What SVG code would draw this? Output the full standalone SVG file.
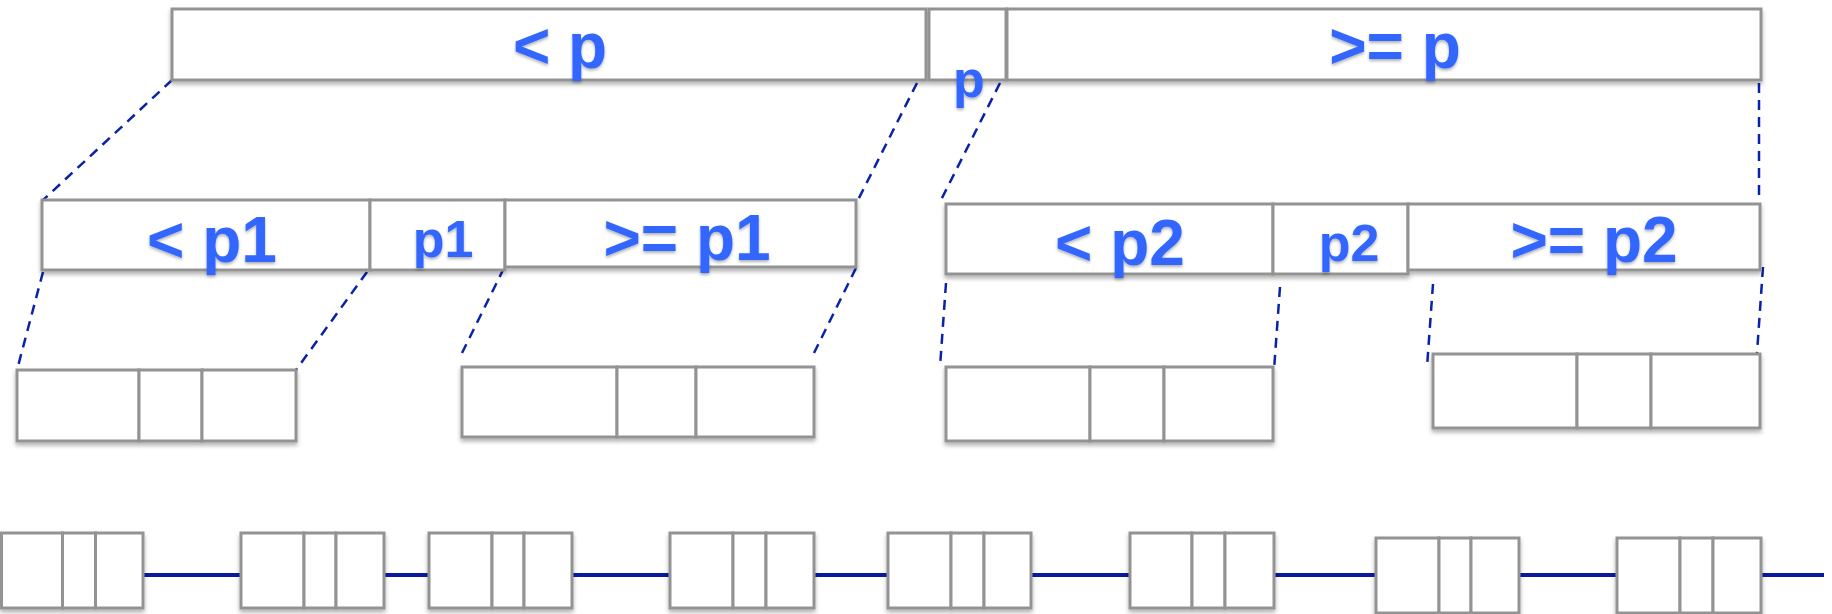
<svg xmlns="http://www.w3.org/2000/svg" width="1832" height="614" viewBox="0 0 1832 614">
<defs>
<filter id="sh" x="-5%" y="-10%" width="110%" height="130%">
<feDropShadow dx="0" dy="3" stdDeviation="2" flood-color="#000" flood-opacity="0.3"/>
</filter>
<filter id="tsh" x="-10%" y="-10%" width="120%" height="130%">
<feDropShadow dx="0" dy="2" stdDeviation="1.5" flood-color="#000" flood-opacity="0.3"/>
</filter>
</defs>
<style>
.c{fill:#fff;stroke:#939393;stroke-width:3}
.lbl{font-family:"Liberation Sans",Arial,sans-serif;font-weight:bold;fill:#3366ff;text-anchor:middle}
.big{font-size:64px}
.sm{font-size:52px}
.d{stroke:#0a22a8;stroke-width:2.5;stroke-dasharray:10 7;fill:none}
.s{stroke:#0a1a9e;stroke-width:4;fill:none}
</style>
<rect width="1832" height="614" fill="#fff"/>

<g id="connectors">
<line class="d" x1="172" y1="80" x2="42" y2="201"/>
<line class="d" x1="917" y1="83" x2="857" y2="202"/>
<line class="d" x1="1000" y1="83" x2="940" y2="202"/>
<line class="d" x1="1759" y1="83" x2="1759" y2="200"/>
<line class="d" x1="43" y1="272" x2="17" y2="370"/>
<line class="d" x1="367" y1="272" x2="296" y2="370"/>
<line class="d" x1="504" y1="268" x2="462" y2="353"/>
<line class="d" x1="856" y1="268" x2="814" y2="353"/>
<line class="d" x1="946" y1="283" x2="940" y2="367"/>
<line class="d" x1="1280" y1="287" x2="1274" y2="370"/>
<line class="d" x1="1433" y1="284" x2="1427" y2="367"/>
<line class="d" x1="1763" y1="267" x2="1757" y2="353"/>
<line class="s" x1="143" y1="575" x2="241" y2="575"/>
<line class="s" x1="384" y1="575" x2="429" y2="575"/>
<line class="s" x1="572" y1="575" x2="670" y2="575"/>
<line class="s" x1="814" y1="575" x2="888" y2="575"/>
<line class="s" x1="1031" y1="575" x2="1130" y2="575"/>
<line class="s" x1="1274" y1="575" x2="1376" y2="575"/>
<line class="s" x1="1519" y1="575" x2="1617" y2="575"/>
<line class="s" x1="1761" y1="575" x2="1824" y2="575"/>
</g>

<g id="root" filter="url(#sh)">
<rect class="c" x="172" y="9" width="754" height="71"/>
<rect class="c" x="929" y="9" width="77" height="71"/>
<rect class="c" x="1007" y="9" width="754" height="71"/>
</g>
<g id="root-labels" filter="url(#tsh)">
<text class="lbl big" x="560" y="68">&lt; p</text>
<text class="lbl sm" x="969" y="97">p</text>
<text class="lbl big" x="1395" y="68">&gt;= p</text>
</g>

<g id="left" filter="url(#sh)">
<rect class="c" x="42" y="200" width="328" height="70"/>
<rect class="c" x="370" y="200" width="135" height="70"/>
<rect class="c" x="505" y="200" width="351" height="67"/>
</g>
<g id="left-labels" filter="url(#tsh)">
<text class="lbl big" x="212" y="262">&lt; p1</text>
<text class="lbl sm" x="443" y="257">p1</text>
<text class="lbl big" x="687" y="260">&gt;= p1</text>
</g>

<g id="right" filter="url(#sh)">
<rect class="c" x="946" y="204" width="327" height="70"/>
<rect class="c" x="1273" y="204" width="135" height="70"/>
<rect class="c" x="1408" y="204" width="352" height="66"/>
</g>
<g id="right-labels" filter="url(#tsh)">
<text class="lbl big" x="1120" y="265">&lt; p2</text>
<text class="lbl sm" x="1349" y="261">p2</text>
<text class="lbl big" x="1594" y="262">&gt;= p2</text>
</g>

<g id="leaf1" filter="url(#sh)">
<rect class="c" x="17" y="370" width="122" height="71"/>
<rect class="c" x="139" y="370" width="63" height="71"/>
<rect class="c" x="202" y="370" width="94" height="71"/>
</g>
<g id="leaf2" filter="url(#sh)">
<rect class="c" x="462" y="367" width="155" height="70"/>
<rect class="c" x="617" y="367" width="79" height="70"/>
<rect class="c" x="696" y="367" width="118" height="70"/>
</g>
<g id="leaf3" filter="url(#sh)">
<rect class="c" x="946" y="367" width="144" height="74"/>
<rect class="c" x="1090" y="367" width="74" height="74"/>
<rect class="c" x="1164" y="367" width="109" height="74"/>
</g>
<g id="leaf4" filter="url(#sh)">
<rect class="c" x="1433" y="354" width="144" height="74"/>
<rect class="c" x="1577" y="354" width="74" height="74"/>
<rect class="c" x="1651" y="354" width="109" height="74"/>
</g>

<g id="list1" filter="url(#sh)">
<rect class="c" x="1.5" y="533" width="61" height="75"/>
<rect class="c" x="62.5" y="533" width="33" height="75"/>
<rect class="c" x="95.5" y="533" width="47.5" height="75"/>
</g>
<g id="list2" filter="url(#sh)">
<rect class="c" x="241" y="533" width="63" height="75"/>
<rect class="c" x="304" y="533" width="32" height="75"/>
<rect class="c" x="336" y="533" width="48" height="75"/>
</g>
<g id="list3" filter="url(#sh)">
<rect class="c" x="429" y="533" width="63" height="75"/>
<rect class="c" x="492" y="533" width="32" height="75"/>
<rect class="c" x="524" y="533" width="48" height="75"/>
</g>
<g id="list4" filter="url(#sh)">
<rect class="c" x="670" y="533" width="63" height="75"/>
<rect class="c" x="733" y="533" width="33" height="75"/>
<rect class="c" x="766" y="533" width="48" height="75"/>
</g>
<g id="list5" filter="url(#sh)">
<rect class="c" x="888" y="533" width="63" height="75"/>
<rect class="c" x="951" y="533" width="33" height="75"/>
<rect class="c" x="984" y="533" width="47" height="75"/>
</g>
<g id="list6" filter="url(#sh)">
<rect class="c" x="1130" y="533" width="62" height="75"/>
<rect class="c" x="1192" y="533" width="33" height="75"/>
<rect class="c" x="1225" y="533" width="49" height="75"/>
</g>
<g id="list7" filter="url(#sh)">
<rect class="c" x="1376" y="538" width="63" height="75"/>
<rect class="c" x="1439" y="538" width="32" height="75"/>
<rect class="c" x="1471" y="538" width="48" height="75"/>
</g>
<g id="list8" filter="url(#sh)">
<rect class="c" x="1617" y="538" width="63" height="75"/>
<rect class="c" x="1680" y="538" width="33" height="75"/>
<rect class="c" x="1713" y="538" width="48" height="75"/>
</g>
</svg>
